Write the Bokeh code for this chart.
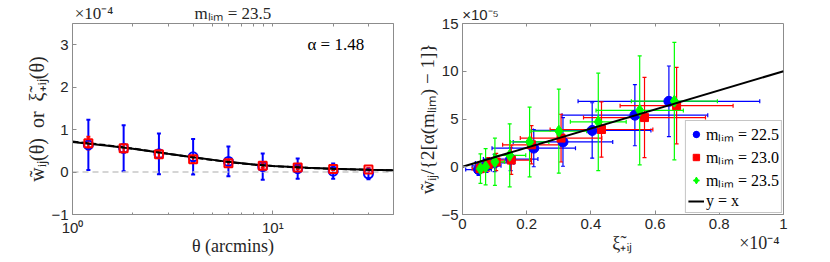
from bokeh.plotting import figure
from bokeh.models import (ColumnDataSource, Whisker, TeeHead, Label, FixedTicker,
                          Legend, LegendItem, LinearAxis, LogAxis)
from bokeh.layouts import row
from bokeh.embed import file_html
from bokeh.resources import INLINE

# ---------------- left panel data (y in units of 1e-4) ----------------
theta = [1.2, 1.8, 2.7, 4.0, 6.0, 8.9, 13.3, 20.0, 30.0]
w_blue = [0.64, 0.56, 0.43, 0.36, 0.25, 0.13, 0.08, 0.02, -0.04]
w_blue_err = [0.59, 0.54, 0.48, 0.42, 0.35, 0.31, 0.24, 0.18, 0.13]
xi_red = [0.68, 0.56, 0.42, 0.30, 0.21, 0.15, 0.11, 0.07, 0.06]
xi_red_err = [0.15, 0.10, 0.08, 0.07, 0.06, 0.05, 0.04, 0.03, 0.03]
theta_model = [1.0, 1.5, 2.0, 3.0, 4.0, 6.0, 8.0, 10.0, 15.0, 20.0, 30.0, 40.0]
model_solid = [0.71, 0.62, 0.55, 0.43, 0.35, 0.24, 0.18, 0.145, 0.10, 0.08, 0.055, 0.04]
model_dashed = [0.72, 0.63, 0.555, 0.43, 0.345, 0.235, 0.175, 0.14, 0.097, 0.077, 0.053, 0.04]
left_yticks = [-1, 0, 1, 2, 3]
left_xticks = [1, 10]
left_xtick_labels = ["10\u2070", "10\u00b9"]
left_xminor = [2, 3, 4, 5, 6, 7, 8, 9, 20, 30, 40]
alpha_text = "\u03b1 = 1.48"
title_text = "m\u2097\u1d62\u2098 = 23.5"
scale_left = "\u00d710\u207b\u2074"

# ---------------- right panel data (x in 1e-4, y in 1e-5) ----------------
labels_r = ["m\u2097\u1d62\u2098 = 22.5", "m\u2097\u1d62\u2098 = 23.0", "m\u2097\u1d62\u2098 = 23.5"]
b_x = [0.05, 0.075, 0.10, 0.15, 0.222, 0.313, 0.404, 0.537, 0.643]
b_y = [-0.3, 0.1, 0.4, 0.8, 1.95, 2.6, 3.8, 5.4, 6.85]
b_xerr = [0.04, 0.045, 0.06, 0.085, 0.13, 0.155, 0.183, 0.227, 0.283]
b_yerr = [0.6, 0.7, 0.9, 1.2, 1.95, 2.55, 2.9, 3.2, 3.7]

r_x = [0.055, 0.08, 0.105, 0.152, 0.215, 0.307, 0.433, 0.567, 0.667]
r_y = [-0.2, 0.25, 0.5, 0.7, 2.3, 3.0, 3.9, 5.15, 6.4]
r_xerr = [0.025, 0.03, 0.04, 0.06, 0.09, 0.127, 0.16, 0.19, 0.176]
r_yerr = [0.5, 0.7, 0.9, 1.5, 2.0, 2.5, 2.9, 4.2, 4.0]

g_x = [0.056, 0.072, 0.101, 0.147, 0.209, 0.30, 0.423, 0.552, 0.66]
g_y = [-0.2, 0.0, 0.52, 1.2, 2.6, 3.73, 4.7, 5.9, 6.87]
g_xerr = [0.02, 0.02, 0.03, 0.05, 0.06, 0.087, 0.087, 0.136, 0.134]
g_yerr = [1.55, 1.9, 2.47, 3.3, 3.65, 4.4, 5.1, 5.7, 6.15]

line_x = [0.0, 1.0]
line_y = [0.0, 10.0]
right_xticks = [0, 0.2, 0.4, 0.6, 0.8, 1.0]
right_yticks = [-5, 0, 5, 10, 15]
scale_right_y = "\u00d710\u207b\u2075"
scale_right_x = "\u00d710\u207b\u2074"
xlabel_right = "\u03be\u0303\u208a\u1d62\u2c7c"

BLUE, RED, GREEN = "#0000ff", "#ff0000", "#00ff00"
AXC = "#8c8c8c"
TXT = "#262626"
SANS = "Liberation Sans"
SERIF = "Liberation Serif"


def style(p):
    p.outline_line_color = AXC
    p.grid.visible = False
    p.background_fill_color = "white"
    p.border_fill_color = "white"
    for ax in p.axis:
        ax.axis_line_color = AXC
        ax.major_tick_line_color = AXC
        ax.minor_tick_line_color = AXC
        ax.major_tick_in = 4
        ax.major_tick_out = 0
        ax.minor_tick_in = 2
        ax.minor_tick_out = 0
        ax.major_label_text_font = SANS
        ax.major_label_text_font_size = "15px"
        ax.major_label_text_color = TXT
        ax.major_label_standoff = 4
        ax.axis_label_text_font = SERIF
        ax.axis_label_text_font_size = "18px"
        ax.axis_label_text_font_style = "normal"
        ax.axis_label_text_color = TXT
        ax.axis_label_standoff = 0


def text_axis(axis, ticks, labels, font, size, minor=(), standoff=0):
    """An extra axis used only to carry free text outside the frame."""
    axis.ticker = FixedTicker(ticks=ticks, minor_ticks=list(minor))
    axis.major_label_overrides = dict(zip(ticks, labels))
    axis.axis_line_color = None
    axis.major_tick_line_color = None
    axis.minor_tick_line_color = AXC
    axis.minor_tick_in = 3
    axis.minor_tick_out = 0
    axis.major_tick_in = 0
    axis.major_tick_out = 0
    axis.major_label_standoff = standoff
    axis.major_label_text_font = font
    axis.major_label_text_font_size = size
    axis.major_label_text_color = TXT
    return axis


def vwhisk(p, xs, ys, errs, color, lw, cap):
    src = ColumnDataSource(dict(x=xs, up=[y + e for y, e in zip(ys, errs)],
                                lo=[y - e for y, e in zip(ys, errs)]))
    p.add_layout(Whisker(source=src, base="x", upper="up", lower="lo", dimension="height",
                         line_color=color, line_width=lw,
                         upper_head=TeeHead(size=cap, line_color=color, line_width=lw),
                         lower_head=TeeHead(size=cap, line_color=color, line_width=lw)))


def hwhisk(p, xs, ys, errs, color, lw, cap):
    src = ColumnDataSource(dict(y=ys, up=[x + e for x, e in zip(xs, errs)],
                                lo=[x - e for x, e in zip(xs, errs)]))
    p.add_layout(Whisker(source=src, base="y", upper="up", lower="lo", dimension="width",
                         line_color=color, line_width=lw,
                         upper_head=TeeHead(size=cap, line_color=color, line_width=lw),
                         lower_head=TeeHead(size=cap, line_color=color, line_width=lw)))


# ================= left figure =================
p1 = figure(x_axis_type="log", x_range=(1, 40), y_range=(-1, 3.5),
            frame_width=321, frame_height=191,
            min_border_left=72, min_border_right=15, min_border_top=23, min_border_bottom=0,
            output_backend="svg", toolbar_location=None)
style(p1)
p1.xaxis.ticker = FixedTicker(ticks=left_xticks, minor_ticks=left_xminor)
p1.xaxis.major_label_overrides = dict(zip(left_xticks, left_xtick_labels))
p1.xaxis.axis_label_standoff = -3
p1.yaxis.ticker = FixedTicker(ticks=left_yticks, minor_ticks=[])
p1.xaxis.axis_label = "\u03b8 (arcmins)"
p1.yaxis.axis_label = "w\u0303\u1d62\u2c7c(\u03b8)\u00a0 or \u00a0\u03be\u0303\u208a\u1d62\u2c7c(\u03b8)"
p1.yaxis.axis_label_text_font_size = "20px"

# top text row: scale factor at the left, panel title in the middle
p1.add_layout(text_axis(LogAxis(), [1.28, 6.31], [scale_left, title_text], SERIF, "17px",
                        minor=[2, 3, 4, 5, 6, 7, 8, 9, 10, 20, 30, 40], standoff=1), "above")

p1.line([1, 40], [0, 0], line_color="#c8c8c8", line_width=1.6, line_dash="6 4")
vwhisk(p1, theta, w_blue, w_blue_err, BLUE, 2, 4)
vwhisk(p1, theta, xi_red, xi_red_err, RED, 2, 4)
p1.scatter(theta, w_blue, marker="circle", size=9, fill_color=None, line_color=BLUE, line_width=2)
p1.line(theta_model, model_dashed, line_color="black", line_width=2, line_dash="6 3")
p1.line(theta_model, model_solid, line_color="black", line_width=2)
p1.scatter(theta, xi_red, marker="square", size=8, fill_color=None, line_color=RED, line_width=2)

p1.add_layout(Label(x=20.6, y=3.0, text=alpha_text, text_font=SERIF, text_font_size="17px",
                    text_color="black", text_baseline="middle", text_align="center"))

# ================= right figure =================
p2 = figure(x_range=(0, 1), y_range=(-5, 15),
            frame_width=321, frame_height=191,
            min_border_left=54, min_border_right=39, min_border_top=23, min_border_bottom=0,
            output_backend="svg", toolbar_location=None)
style(p2)
p2.xaxis.ticker = FixedTicker(ticks=right_xticks, minor_ticks=[])
p2.yaxis.ticker = FixedTicker(ticks=right_yticks, minor_ticks=[])
p2.yaxis.axis_label = "w\u0303\u1d62\u2c7c/{2[\u03b1(m\u2097\u1d62\u2098) \u2212 1]}"
p2.yaxis.axis_label_text_font_size = "19px"

p2.add_layout(text_axis(LinearAxis(), [0.056], [scale_right_y], SANS, "15px",
                        minor=[0.2, 0.4, 0.6, 0.8], standoff=1), "above")
p2.add_layout(text_axis(LinearAxis(), [0.498, 0.925], [xlabel_right, scale_right_x], SERIF, "18px",
                        standoff=1), "below")

series = [(b_x, b_y, b_xerr, b_yerr, BLUE, "circle", 10),
          (r_x, r_y, r_xerr, r_yerr, RED, "square", 8),
          (g_x, g_y, g_xerr, g_yerr, GREEN, "diamond", 12)]
items = []
for (xs, ys, xe, ye, c, mk, sz), lab in zip(series, labels_r):
    vwhisk(p2, xs, ys, ye, c, 1.2, 4)
    hwhisk(p2, xs, ys, xe, c, 1.2, 4)
    r = p2.scatter(xs, ys, marker=mk, size=sz, fill_color=c, line_color=c)
    cross = p2.scatter([-10], [-100], marker="cross", size=14, line_color=c, line_width=1.5)
    items.append(LegendItem(label=lab, renderers=[cross, r]))
ln = p2.line(line_x, line_y, line_color="black", line_width=2)
items.append(LegendItem(label="y = x", renderers=[ln]))

leg = Legend(items=items, location="bottom_right", margin=1, padding=2, spacing=1,
             glyph_width=16, glyph_height=18, label_height=18, label_standoff=2,
             label_text_font=SERIF, label_text_font_size="16px", label_text_color="black",
             border_line_color=AXC, background_fill_color="white", background_fill_alpha=1)
p2.add_layout(leg, "center")

layout = row(p1, p2)
open("out.html", "w").write(file_html(layout, INLINE))
